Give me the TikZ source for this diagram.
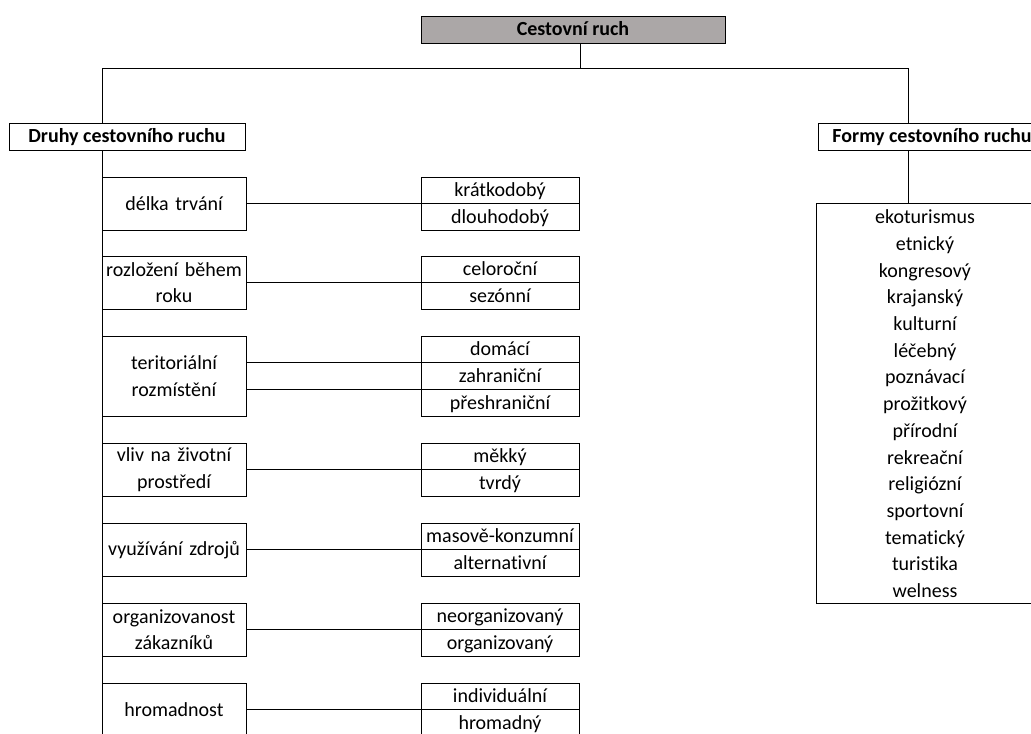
\documentclass[tikz,border=0pt]{standalone}
\usepackage{fontspec}
\setmainfont[Ligatures=NoCommon]{Carlito}
\usetikzlibrary{positioning}
\definecolor{headgray}{HTML}{ABA7A7}
\newcommand\cellfont{\fontsize{15}{18}\selectfont}

\tikzset{
  rootbox/.style={draw, fill=headgray, font=\cellfont\bfseries, minimum width=228pt, minimum height=20.25pt, inner sep=0pt, outer sep=0pt, text height=12pt, text depth=2.5pt},
  mainbox/.style={draw, fill=white, font=\cellfont\bfseries, minimum height=20.25pt, inner sep=0pt, outer sep=0pt, text height=12pt, text depth=2.5pt},
  catbox/.style={draw, fill=white, text width=106pt, align=center, inner sep=1pt, outer sep=0pt, minimum height=40pt, font=\fontsize{15}{20}\selectfont},
  optbox/.style={draw, fill=white, minimum width=118.5pt, minimum height=20pt, inner sep=0pt, outer sep=0pt, font=\cellfont, text height=12pt, text depth=2.5pt},
  formitem/.style={inner sep=0pt, anchor=base, font=\cellfont},
}

\begin{document}
\begin{tikzpicture}[x=0.75pt, y=-0.75pt, line width=0.75pt]
    \clip (0,0) rectangle (1031,733);

    % Top level
    \node[rootbox, anchor=north west] (root) at (421,16) {Cestovní ruch};
    \coordinate (rootfoot) at (580,68);
    \coordinate (spinetop) at (102,68);
    \coordinate (formtop) at (908,68);

    \node[mainbox, minimum width=177pt, anchor=north west] (druhy) at (9,123) {Druhy cestovního ruchu};
    \node[mainbox, minimum width=171pt, anchor=north west] (formy) at (818,123) {Formy cestovního ruchu};

    \draw (root.south -| rootfoot) -- (rootfoot);
    \draw (spinetop) -- (formtop);
    \draw (spinetop) -- (spinetop |- druhy.north);
    \draw (formtop) -- (formtop |- formy.north);

    % Druhy - categories
    \node[catbox, anchor=north west] (delka) at (102,177) {délka trvání};
    \node[catbox, anchor=north west] (rozlozeni) at (102,256) {rozložení během\\roku};
    \node[catbox, anchor=north west, minimum height=60pt] (terit) at (102,336) {teritoriální\\rozmístění};
    \node[catbox, anchor=north west] (vliv) at (102,443) {vliv na životní\\prostředí};
    \node[catbox, anchor=north west] (vyuziti) at (102,523) {využívání zdrojů};
    \node[catbox, anchor=north west] (organiz) at (102,603) {organizovanost\\zákazníků};
    \node[catbox, anchor=north west] (hromad) at (102,683) {hromadnost};

    \draw (spinetop |- druhy.south) -- (spinetop |- hromad.south);

    % Druhy - options
    \node[optbox, anchor=north west] (kratko) at (421,177) {krátkodobý};
    \node[optbox, below=0pt of kratko] (dlouho) {dlouhodobý};

    \node[optbox, anchor=north west] (celo) at (421,256) {celoroční};
    \node[optbox, below=0pt of celo] (sezon) {sezónní};

    \node[optbox, anchor=north west] (domaci) at (421,336) {domácí};
    \node[optbox, below=0pt of domaci] (zahran) {zahraniční};
    \node[optbox, below=0pt of zahran] (preshr) {přeshraniční};

    \node[optbox, anchor=north west] (mekky) at (421,443) {měkký};
    \node[optbox, below=0pt of mekky] (tvrdy) {tvrdý};

    \node[optbox, anchor=north west] (masove) at (421,523) {masově-konzumní};
    \node[optbox, below=0pt of masove] (altern) {alternativní};

    \node[optbox, anchor=north west] (neorg) at (421,603) {neorganizovaný};
    \node[optbox, below=0pt of neorg] (org) {organizovaný};

    \node[optbox, anchor=north west] (indiv) at (421,683) {individuální};
    \node[optbox, below=0pt of indiv] (hromadny) {hromadný};

    % Connectors category -> options
    \draw (delka.east) -- (kratko.south west);
    \draw (rozlozeni.east) -- (celo.south west);
    \draw (domaci.south west -| terit.east) -- (domaci.south west);
    \draw (zahran.south west -| terit.east) -- (zahran.south west);
    \draw (vliv.east) -- (mekky.south west);
    \draw (vyuziti.east) -- (masove.south west);
    \draw (organiz.east) -- (neorg.south west);
    \draw (hromad.east) -- (indiv.south west);

    % Formy - list
    \node[draw, anchor=north west, minimum width=163.5pt, minimum height=300pt, inner sep=0pt, outer sep=0pt] (formlist) at (816,203) {};
    \draw (formtop |- formy.south) -- (formtop |- formlist.north);
    \foreach \f [count=\i] in {ekoturismus, etnický, kongresový, krajanský, kulturní, léčebný, poznávací, prožitkový, přírodní, rekreační, religiózní, sportovní, tematický, turistika, welness}
        \node[formitem] (form\i) at (925,197+26.7*\i) {\f};
\end{tikzpicture}
\end{document}
